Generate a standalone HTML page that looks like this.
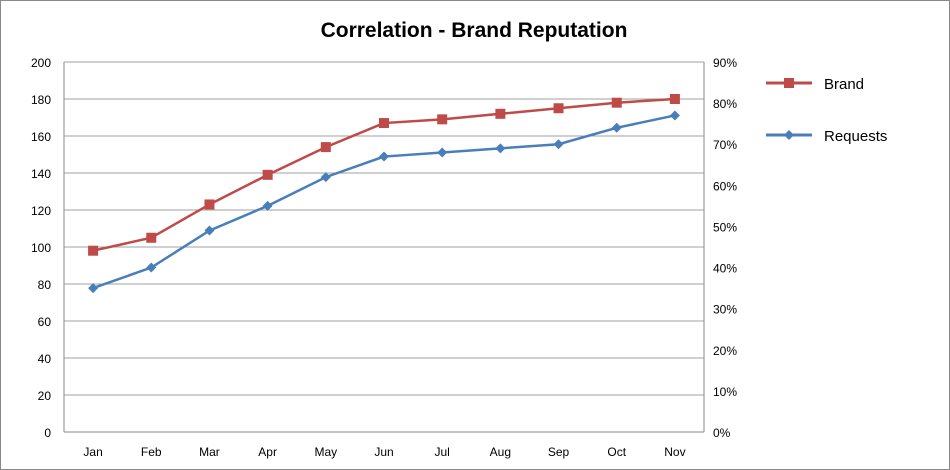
<!DOCTYPE html>
<html><head><meta charset="utf-8"><style>
body{margin:0;background:#fff;}
svg{display:block;font-family:"Liberation Sans",sans-serif;}
</style></head><body>
<svg id="chart" width="950" height="470">
<rect x="0.5" y="0.5" width="949" height="469" fill="#fff" stroke="#888"/>
<text x="474" y="37" text-anchor="middle" font-size="21" font-weight="bold" fill="#000">Correlation - Brand Reputation</text>
<g id="grid"></g><g id="axes"></g><g id="series"></g>
<g>
<g><line x1="766" y1="83" x2="812" y2="83" stroke="#be4b48" stroke-width="3"/><rect x="784" y="78" width="10" height="10" fill="#be4b48"/><text x="824" y="89" font-size="15">Brand</text></g>
<g><line x1="766" y1="135" x2="812" y2="135" stroke="#4a7ebb" stroke-width="3"/><path d="M789 130 L794 135 L789 140 L784 135Z" fill="#4a7ebb"/><text x="824" y="141" font-size="15">Requests</text></g>
</g>
</svg>
<script>
const categories=["Jan","Feb","Mar","Apr","May","Jun","Jul","Aug","Sep","Oct","Nov"];
const brandValues=[98,105,123,139,154,167,169,172,175,178,180];
const requestsPct=[35,40,49,55,62,67,68,69,70,74,77];
const leftTicks=[0,20,40,60,80,100,120,140,160,180,200];
const rightTicks=[0,10,20,30,40,50,60,70,80,90];
const NS="http://www.w3.org/2000/svg";
const L=64,R=704,T=62,B=432;
const xs=i=>L+(R-L)/categories.length*(i+0.5);
const yl=v=>B-(B-T)*v/200;
const yr=v=>B-(B-T)*v/90;
function mk(tag,attrs,parent){const e=document.createElementNS(NS,tag);for(const k in attrs)e.setAttribute(k,attrs[k]);parent.appendChild(e);return e;}
const grid=document.getElementById('grid'),axes=document.getElementById('axes'),ser=document.getElementById('series');
leftTicks.forEach(v=>{
 const l=mk('line',{x1:L,x2:R,y1:yl(v),y2:yl(v),stroke:v===0?'#888':'#a0a0a0','stroke-width':1},grid);
 
 
 const t=mk('text',{x:L-13,y:yl(v)+5,'text-anchor':'end','font-size':12},axes);
 t.textContent=v;
 
 
});
rightTicks.forEach(v=>{
 const t=mk('text',{x:R+9,y:yr(v)+5,'font-size':12},axes);
 t.textContent=v+'%';
 
 
});
mk('line',{x1:L,x2:L,y1:T,y2:B,stroke:'#888'},axes);
mk('line',{x1:R,x2:R,y1:T,y2:B,stroke:'#888'},axes);
categories.forEach((c,i)=>{
 const t=mk('text',{x:xs(i),y:B+24,'text-anchor':'middle','font-size':12},axes);
 t.textContent=c;
 
 
});
const bp=mk('polyline',{points:brandValues.map((v,i)=>xs(i)+','+yl(v)).join(' '),fill:'none',stroke:'#be4b48','stroke-width':2.5},ser);


const rp=mk('polyline',{points:requestsPct.map((v,i)=>xs(i)+','+yr(v)).join(' '),fill:'none',stroke:'#4a7ebb','stroke-width':2.5},ser);


brandValues.forEach((v,i)=>{
 const m=mk('rect',{x:xs(i)-5,y:yl(v)-5,width:10,height:10,fill:'#be4b48'},ser);
 
 
});
requestsPct.forEach((v,i)=>{
 const x=xs(i),y=yr(v);
 const m=mk('path',{d:`M${x} ${y-5} L${x+5} ${y} L${x} ${y+5} L${x-5} ${y}Z`,fill:'#4a7ebb'},ser);
 
 
});
</script>
</body></html>
